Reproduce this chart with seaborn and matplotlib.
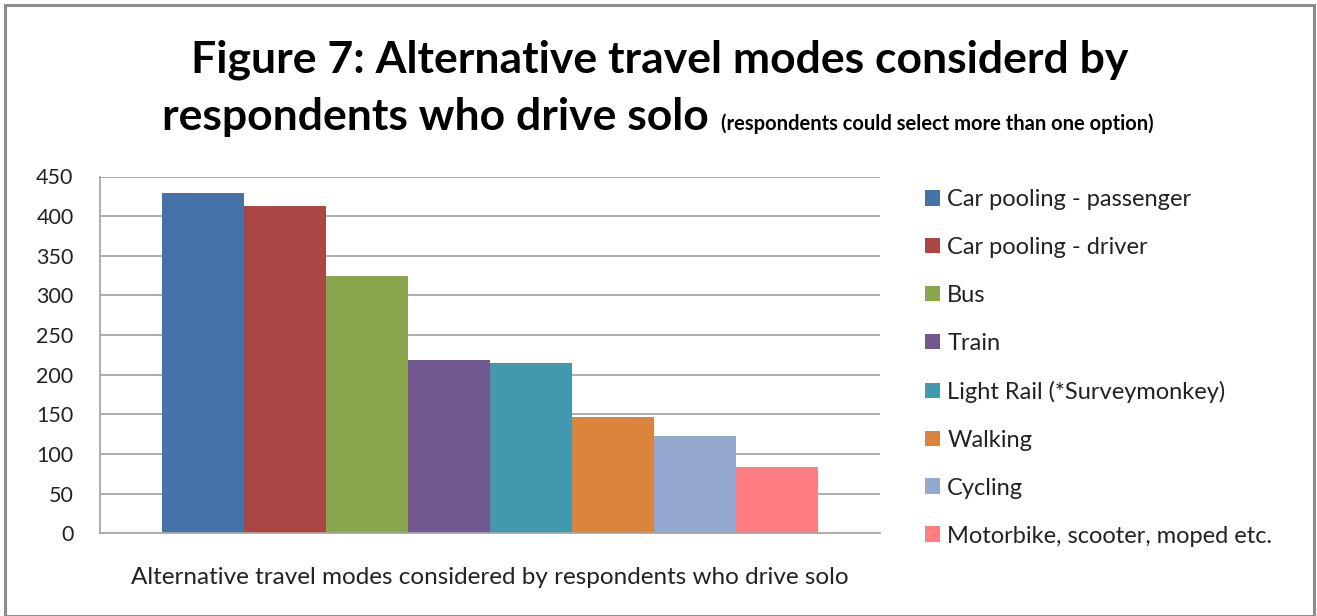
import matplotlib
matplotlib.use("Agg")
import matplotlib.pyplot as plt
import seaborn as sns
import pandas as pd
from matplotlib.patches import Rectangle

categories = ["Alternative travel modes considered by respondents who drive solo"]
modes = ["Car pooling - passenger", "Car pooling - driver", "Bus", "Train",
         "Light Rail (*Surveymonkey)", "Walking", "Cycling",
         "Motorbike, scooter, moped etc."]
counts = [429, 413, 325, 218, 215, 147, 123, 84]
colors = ["#4572A7", "#AA4643", "#89A54E", "#71588F", "#4198AF", "#DB843D",
          "#93A9CF", "#FF7C80"]
yticks = [0, 50, 100, 150, 200, 250, 300, 350, 400, 450]

sns.set_theme(style="white")
FONT = ["Lato", "DejaVu Sans"]
plt.rcParams["font.family"] = FONT

W, H = 1317, 616
fig = plt.figure(figsize=(W / 100, H / 100), dpi=100)
ax = fig.add_axes([100 / W, 1 - 533.3 / H, (880 - 100) / W, (533.3 - 176.5) / H])

df = pd.DataFrame({"cat": categories * len(modes), "mode": modes, "count": counts})
sns.barplot(data=df, x="cat", y="count", hue="mode", hue_order=modes,
            palette=colors, width=0.84, gap=0, ax=ax, saturation=1,
            edgecolor="none", linewidth=0, legend=True)

ax.set_ylim(0, 450)
ax.set_xlim(-0.5, 0.5)
ax.set_yticks(yticks)
ax.set_yticklabels([str(v) for v in yticks], fontsize=15.5, color="#222222")
ax.set_xticks([])
ax.set_ylabel("")
ax.set_xlabel(categories[0], fontsize=17.5, color="#222222", labelpad=24)
ax.tick_params(axis="y", length=0, pad=19)
for y in yticks[1:]:
    ax.axhline(y, color="#a6a6a6", lw=1.3, zorder=0)
ax.set_axisbelow(True)
for s in ["top", "right"]:
    ax.spines[s].set_visible(False)
for s in ["left", "bottom"]:
    ax.spines[s].set_color("#a6a6a6")
    ax.spines[s].set_linewidth(1.3)

leg = ax.legend(loc="upper left", bbox_to_anchor=(925 / W, 1 - 189 / H),
                bbox_transform=fig.transFigure, frameon=False, fontsize=17,
                handlelength=0.64, handleheight=0.64, handletextpad=0.3,
                labelspacing=1.14, borderaxespad=0, borderpad=0)
for t in leg.get_texts():
    t.set_color("#222222")

# Title
fig.text(660 / W, 1 - 60 / H, "Figure 7: Alternative travel modes considerd by",
         ha="center", va="center", fontsize=32, fontweight="bold", color="black")
t1 = fig.text(162 / W, 1 - 130 / H, "respondents who drive solo",
              ha="left", va="baseline", fontsize=32, fontweight="bold", color="black")
fig.canvas.draw()
r = fig.canvas.get_renderer()
bb = t1.get_window_extent(renderer=r)
fig.text((bb.x1 + 12) / W, 1 - 130 / H, "(respondents could select more than one option)",
         ha="left", va="baseline", fontsize=14.5, fontweight="bold", color="black")

# Outer border
fig.patches.append(Rectangle((5 / W, 0), (1314 - 5) / W, (H - 5) / H,
                             transform=fig.transFigure, fill=False,
                             edgecolor="#8c8c8c", lw=2.2))

fig.savefig("out.png", dpi=100)
